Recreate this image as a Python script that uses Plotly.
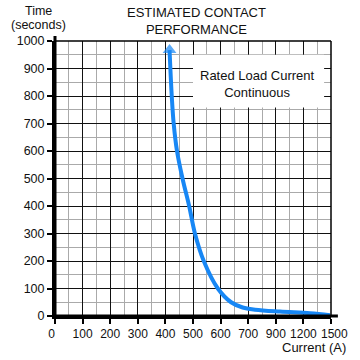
import numpy as np
import plotly.graph_objects as go

# Tick labels of the (non-uniform) current axis, equally spaced on the chart
x_tick_labels = [0, 100, 200, 300, 400, 500, 600, 700, 900, 1200, 1500]
y_tick_vals = [0, 100, 200, 300, 400, 500, 600, 700, 800, 900, 1000]

# Curve: current (A) vs time (s); first point = arrow head
current_a = [415, 423, 430, 442, 462, 486, 507, 539, 590, 638, 680, 750, 945, 1272, 1490]
time_s = [967, 800, 700, 600, 500, 400, 300, 200, 100, 50, 31, 23, 16, 10, 3]

title_text = "ESTIMATED CONTACT<br>PERFORMANCE"
box_text = "Rated Load Current<br>Continuous"

# map current to axis position (equally spaced tick labels)
tick_pos = list(range(len(x_tick_labels)))
x_pos = np.interp(current_a, x_tick_labels, tick_pos)

tick_text = [str(v) for v in x_tick_labels]
tick_text[0] = "0&nbsp;&nbsp;"
tick_text[-1] = "&nbsp;&nbsp;1500"

FONT = "Liberation Sans, Arial, sans-serif"
BLUE = "#1787f5"

fig = go.Figure()
n = len(x_pos)
fig.add_trace(go.Scatter(
    x=x_pos, y=time_s, mode="lines+markers",
    line=dict(color=BLUE, width=4, shape="spline", smoothing=1.0),
    marker=dict(symbol=["triangle-up"] + ["circle"] * (n - 1),
                size=[12] + [0] * (n - 1), color=BLUE, line=dict(width=0)),
    hoverinfo="skip", showlegend=False, cliponaxis=False,
))

# white label box
fig.add_shape(type="rect", xref="x", yref="y", x0=5.0, x1=9.75, y0=758, y1=950,
              fillcolor="white", line=dict(width=0), layer="above")
fig.add_annotation(x=7.35, y=845, xref="x", yref="y", text=box_text, showarrow=False,
                   xanchor="center", font=dict(family=FONT, size=13, color="#111"), align="center")

fig.add_annotation(x=0.514, y=1.0, xref="paper", yref="paper", yanchor="bottom", xanchor="center",
                   text=title_text, showarrow=False, yshift=2,
                   font=dict(family=FONT, size=13, color="#111"), align="center")
fig.add_annotation(x=-0.06, y=1.0, xref="paper", yref="paper", yanchor="middle", xanchor="center",
                   text="Time", showarrow=False, yshift=30,
                   font=dict(family=FONT, size=12.5, color="#111"))
fig.add_annotation(x=-0.06, y=1.0, xref="paper", yref="paper", yanchor="middle", xanchor="center",
                   text="(seconds)", showarrow=False, yshift=16,
                   font=dict(family=FONT, size=12.5, color="#111"))
fig.add_annotation(x=1.062, y=0, xref="paper", yref="paper", yanchor="top", xanchor="right",
                   text="Current (A)", showarrow=False, yshift=-22,
                   font=dict(family=FONT, size=13, color="#111"), align="right")

# top/right border and slightly extended thick axes
fig.add_shape(type="line", xref="paper", yref="paper", x0=0, x1=1, y0=1, y1=1,
              line=dict(color="black", width=1.5))
fig.add_shape(type="line", xref="paper", yref="paper", x0=1, x1=1, y0=0, y1=1,
              line=dict(color="black", width=1.5))
fig.add_shape(type="line", xref="paper", yref="paper", x0=0, x1=0, y0=0, y1=1.018,
              line=dict(color="black", width=3))
fig.add_shape(type="line", xref="paper", yref="paper", x0=0, x1=1.025, y0=0, y1=0,
              line=dict(color="black", width=3))

fig.update_xaxes(range=[0, 10], tickvals=tick_pos, ticktext=tick_text,
                 tickangle=0, automargin=False,
                 showgrid=True, gridcolor="#111", gridwidth=1.2,
                 minor=dict(dtick=0.5, showgrid=True, gridcolor="#aaa", gridwidth=1.2, ticks=""),
                 showline=True, linecolor="black", linewidth=3,
                 ticks="outside", ticklen=5, tickwidth=1.5, tickcolor="black",
                 tickfont=dict(family=FONT, size=12, color="#111"), zeroline=False, fixedrange=True)
fig.update_yaxes(range=[0, 1000], tickvals=y_tick_vals, automargin=False,
                 showgrid=True, gridcolor="#111", gridwidth=1.2,
                 minor=dict(dtick=50, showgrid=True, gridcolor="#aaa", gridwidth=1.2, ticks=""),
                 showline=True, linecolor="black", linewidth=3,
                 ticks="outside", ticklen=5, tickwidth=1.5, tickcolor="black",
                 tickfont=dict(family=FONT, size=12.5, color="#111"), zeroline=False, fixedrange=True)

fig.update_layout(width=360, height=360, margin=dict(l=55, r=29, t=41, b=44),
                  plot_bgcolor="white", paper_bgcolor="white")

# remove the page's default 8px body margin so the figure sits at the window's corner
fig.write_html("out.html", post_script="document.body.style.margin='0';",
               config={"displayModeBar": False})
